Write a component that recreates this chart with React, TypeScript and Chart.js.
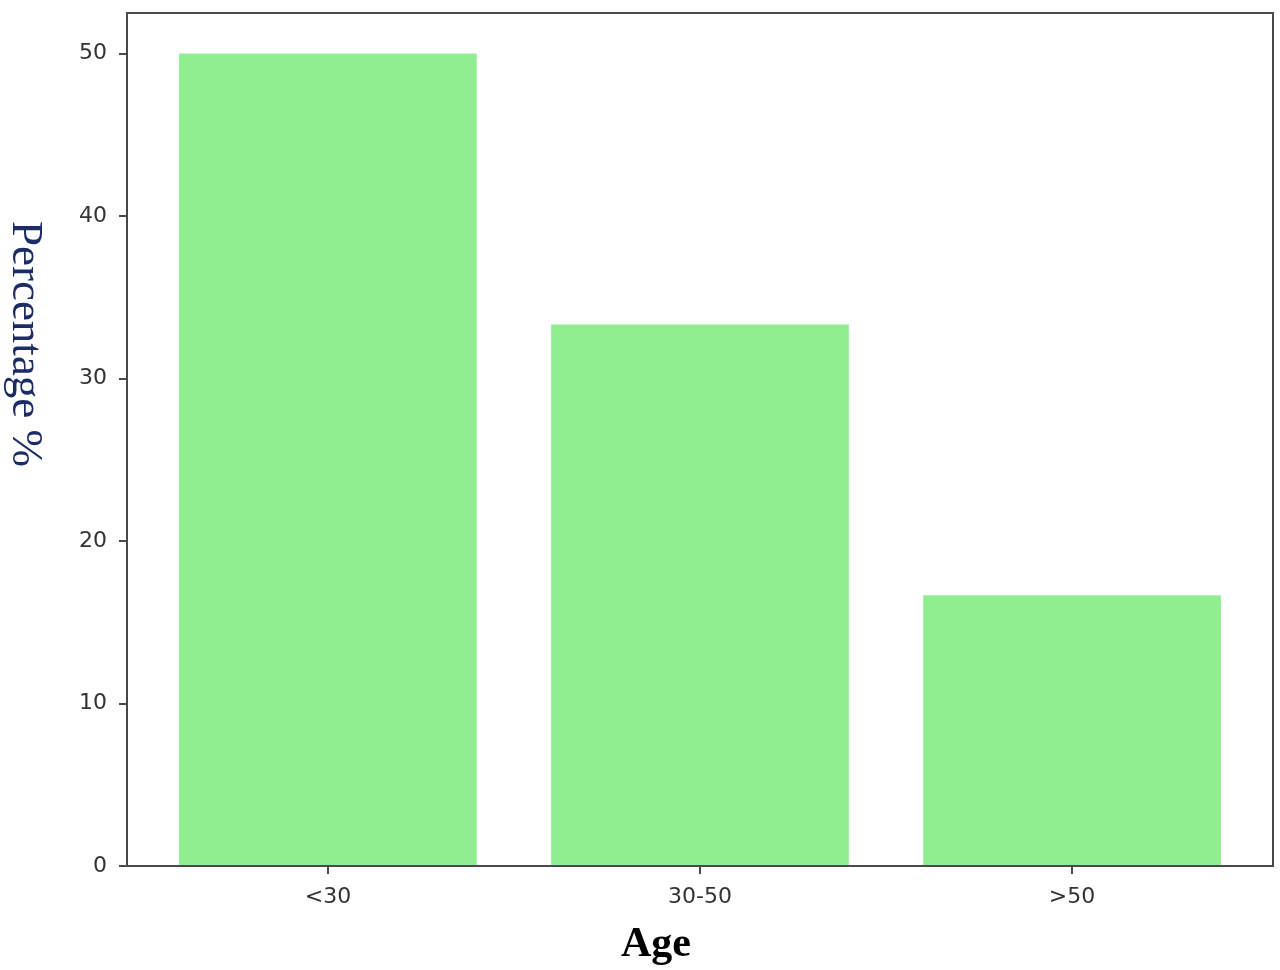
import { useEffect, useRef } from "react";
import { Chart, registerables } from "chart.js";

Chart.register(...registerables);

// age groups and share of respondents (%)
const ageGroups: string[] = ["<30", "30-50", ">50"];
const percentages: number[] = [50, 33.33, 16.67];
const yTicks: number[] = [0, 10, 20, 30, 40, 50];

const BAR_COLOR = "#90EE90";
const AXIS_COLOR = "#4a4a4a";

// draws the full frame plus the hand-placed axis titles
const framePlugin = {
  id: "frame",
  afterDraw(chart: Chart) {
    const { ctx, chartArea } = chart;
    ctx.save();
    ctx.strokeStyle = AXIS_COLOR;
    ctx.lineWidth = 2;
    ctx.strokeRect(chartArea.left, chartArea.top, chartArea.right - chartArea.left, chartArea.bottom - chartArea.top);

    // y title, rotated clockwise (reads top to bottom)
    ctx.save();
    ctx.translate(25, 344);
    ctx.rotate(Math.PI / 2);
    ctx.font = "45px 'Liberation Serif', 'Times New Roman', serif";
    ctx.fillStyle = "#1c2c66";
    ctx.textAlign = "center";
    ctx.textBaseline = "middle";
    ctx.fillText("Percentage %", 0, 0);
    ctx.restore();

    ctx.font = "bold 42px 'Liberation Serif', 'Times New Roman', serif";
    ctx.fillStyle = "#000";
    ctx.textAlign = "center";
    ctx.textBaseline = "alphabetic";
    ctx.fillText("Age", 656, 956);
    ctx.restore();
  },
};

function AgeChart() {
  const canvasRef = useRef<HTMLCanvasElement | null>(null);

  useEffect(() => {
    if (!canvasRef.current) return;
    const chart = new Chart(canvasRef.current, {
      type: "bar",
      data: {
        datasets: [
          {
            data: percentages.map((v, i) => ({ x: i, y: v })),
            backgroundColor: BAR_COLOR,
            borderWidth: 0,
            categoryPercentage: 1,
            barPercentage: 0.8,
          },
        ],
      },
      options: {
        animation: false,
        responsive: false,
        layout: { padding: { left: 0, top: 13, right: 7, bottom: 0 } },
        plugins: {
          legend: { display: false },
          tooltip: { enabled: false },
        },
        scales: {
          x: {
            type: "linear",
            min: -0.54,
            max: 2.54,
            offset: false,
            afterBuildTicks: (scale: any) => {
              scale.ticks = ageGroups.map((_, i) => ({ value: i }));
            },
            afterFit: (scale: any) => {
              scale.height = 104;
              scale.paddingLeft = 0;
              scale.paddingRight = 0;
            },
            ticks: {
              callback: (v: any) => ageGroups[Number(v)] ?? "",
              color: "#333",
              padding: 10,
              maxRotation: 0,
              font: { family: "'DejaVu Sans', sans-serif", size: 22 },
            },
            grid: { offset: false, drawOnChartArea: false, drawTicks: true, tickLength: 8, color: AXIS_COLOR, lineWidth: 2 },
            border: { color: AXIS_COLOR, width: 2 },
          },
          y: {
            min: 0,
            max: 52.5,
            afterBuildTicks: (scale: any) => {
              scale.ticks = yTicks.map((v) => ({ value: v }));
            },
            afterFit: (scale: any) => {
              scale.width = 127;
              scale.paddingTop = 0;
              scale.paddingBottom = 0;
            },
            ticks: {
              color: "#333",
              padding: 12,
              font: { family: "'DejaVu Sans', sans-serif", size: 22 },
            },
            grid: { drawOnChartArea: false, drawTicks: true, tickLength: 8, color: AXIS_COLOR, lineWidth: 2 },
            border: { color: AXIS_COLOR, width: 2 },
          },
        },
      },
      plugins: [framePlugin],
    });
    return () => chart.destroy();
  }, []);

  return <canvas ref={canvasRef} width={1280} height={970} style={{ display: "block" }} />;
}

export default function App() {
  return (
    <div style={{ position: "fixed", left: 0, top: 0, width: 1280, height: 970, background: "#fff" }}>
      <AgeChart />
    </div>
  );
}
